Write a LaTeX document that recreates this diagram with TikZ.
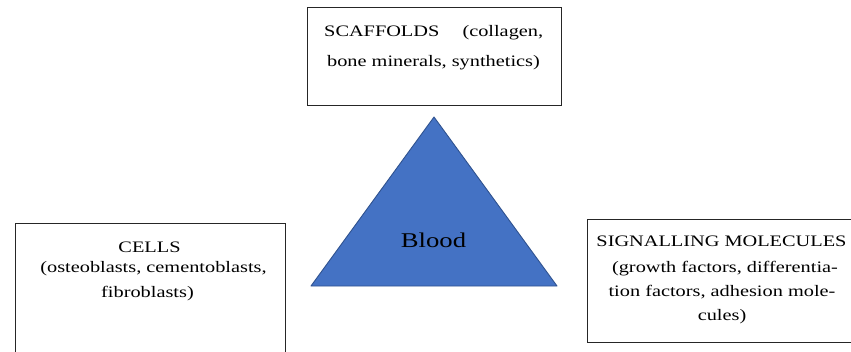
\documentclass[tikz,border=0pt]{standalone}
\usepackage{fontspec}
\setmainfont[FakeStretch=1.27]{Liberation Serif}
\begin{document}
\begin{tikzpicture}[x=1pt,y=1pt,
  boxframe/.style={draw=black!85,line width=1pt},
  txt/.style={inner sep=0pt,anchor=base,font=\fontsize{16}{19}\selectfont},
  trifill/.style={fill=tri,draw=triedge,line width=0.9pt,line join=round}]
\definecolor{tri}{HTML}{4472C4}
\definecolor{triedge}{HTML}{2F528F}
\useasboundingbox (0,0) rectangle (851,351);
\clip (0,0) rectangle (851,351);
% boxes
\draw[boxframe] (307,245) rectangle (561,343);
\draw[boxframe] (15,-10) rectangle (285,127);
\draw[boxframe] (587,9) rectangle (870,131);
% triangle
\coordinate (apex) at (434,234);
\coordinate (bl) at (311,65);
\coordinate (br) at (557,65);
\draw[trifill] (apex) -- (br) -- (bl) -- cycle;
\node[txt,font=\fontsize{21}{24}\selectfont] (blood) at (433.5,103) {Blood};
% top texts
\node[txt,anchor=base west] (s1) at (324,314) {\makebox[219pt][l]{SCAFFOLDS\hfill(collagen,}};
\node[txt] (s2) at (433.5,284) {bone minerals, synthetics)};
% left texts
\node[txt] (c1) at (149.5,99) {CELLS};
\node[txt] (c2) at (153.5,79) {(osteoblasts, cementoblasts,};
\node[txt] (c3) at (147.5,54) {fibroblasts)};
% right texts
\node[txt] (m1) at (721.5,104) {SIGNALLING MOLECULES};
\node[txt] (m2) at (725,79) {(growth factors, differentia-};
\node[txt] (m3) at (722,55) {tion factors, adhesion mole-};
\node[txt] (m4) at (722,31) {cules)};
\end{tikzpicture}
\end{document}
